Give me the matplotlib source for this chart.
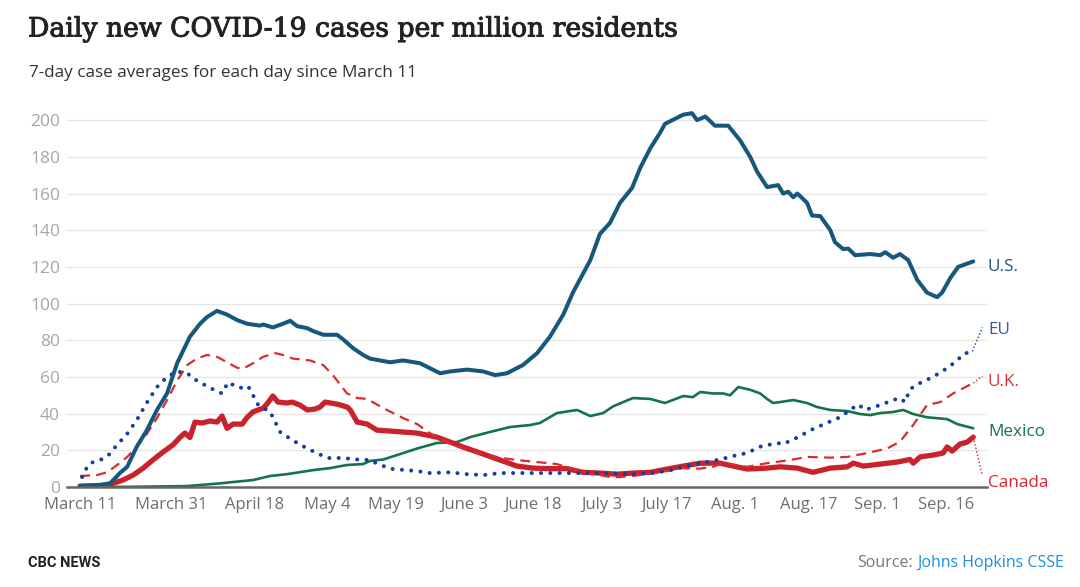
import matplotlib
matplotlib.use("Agg")
import matplotlib.pyplot as plt
import matplotlib.patheffects as pe

# ---------------- data (days since March 11, cases per million) ----------------
us_days = [0.0, 4.4, 6.6, 8.7, 10.3, 12.4, 14.6, 16.8, 19.0, 21.2, 24.0, 26.2, 27.7, 29.9,
           32.1, 34.3, 36.5, 39.3, 40.0, 42.1, 44.3, 45.9, 47.4, 49.6, 50.9, 53.1, 56.1,
           57.4, 59.6, 61.8, 63.3, 67.7, 70.5, 74.2, 78.6, 80.8, 84.5, 88.0, 90.6, 93.2,
           96.7, 99.8, 102.6, 105.5, 107.6, 111.4, 113.5, 115.7, 117.9, 120.5, 122.3,
           124.5, 126.6, 127.7, 131.7, 133.6, 134.7, 136.5, 138.6, 141.5, 144.1, 146.3,
           147.8, 150.0, 152.4, 153.5, 154.6, 155.7, 156.6, 158.7, 159.8, 161.6, 163.8,
           164.8, 166.6, 167.7, 169.2, 172.5, 174.7, 175.8, 177.5, 179.0, 180.8, 182.8,
           184.9, 187.1, 188.2, 190.0, 191.7, 195.0]
us_vals = [0.5, 1.2, 2, 7.6, 11, 22, 31, 42, 51, 67.5, 82, 89, 92.6, 96,
           94, 91, 89, 88, 88.6, 87, 89, 90.6, 87.7, 86.6, 85, 83, 83,
           80.6, 75.7, 72, 70, 68, 69, 67.5, 62, 63, 64, 63, 61, 62,
           66.5, 73, 82, 94, 106, 123.7, 138, 144, 155, 163, 174,
           184.7, 193, 198, 203, 203.8, 200, 202, 197, 197, 189, 180,
           172, 163.5, 164.6, 160, 161, 158, 160, 155, 148, 147.7, 140,
           133.5, 129.7, 130, 126.4, 127, 126.4, 128, 125, 127, 123.7, 112.8,
           106, 103.5, 106, 114, 120, 123]

eu_days = [0.0, 0.4, 1.1, 2.2, 4.4, 6.1, 8.1, 10.3, 12.4, 14.6, 16.8, 19.0, 21.2, 23.4,
           25.5, 28.4, 31.0, 32.3, 34.9, 36.7, 38.9, 41.5, 43.7, 46.3, 49.6, 51.7, 54.1,
           57.4, 60.5, 63.3, 65.5, 68.3, 73.6, 76.4, 80.8, 84.5, 88.0, 91.7, 97.6, 106.3,
           113.5, 120.7, 124.5, 128.2, 131.7, 135.4, 139.7, 143.4, 145.6, 148.5, 152.2,
           153.5, 156.6, 160.0, 163.1, 165.9, 168.1, 169.9, 171.4, 174.7, 177.5, 179.0,
           180.1, 181.2, 183.4, 186.2, 189.3, 191.5, 192.8, 194.8]
eu_vals = [0.5, 5, 9, 13, 14.7, 17, 23, 29, 36.5, 46, 54.5, 60, 63, 62,
           58, 54, 51, 57, 54, 55, 44.7, 41, 30, 25.6, 21, 18.5, 15.8,
           15.8, 15, 14.7, 12, 9.8, 8.7, 7.6, 8, 7, 6.5, 7.6, 7.6, 7.6,
           7.6, 7, 7.6, 8.7, 11, 13, 15, 17.4, 18.5, 22, 24,
           23.4, 27, 31.6, 35, 38, 42, 45, 42, 44.7, 47.4, 48.5,
           46.3, 53.4, 56.7, 60, 64.8, 69, 72.5, 74]

uk_days = [0.0, 3.7, 5.9, 8.1, 10.3, 12.4, 14.6, 16.8, 19.0, 21.2, 23.4, 25.5, 27.7, 29.9,
           32.1, 34.3, 35.6, 37.8, 40.0, 42.6, 44.3, 46.5, 50.2, 53.1, 55.2, 58.3, 60.5,
           62.7, 66.2, 70.5, 73.6, 76.0, 78.6, 83.6, 88.0, 91.7, 95.4, 99.8, 104.1, 107.0,
           109.8, 113.5, 115.7, 117.9, 122.3, 126.6, 131.0, 135.4, 138.2, 140.4, 145.6,
           150.0, 155.0, 158.7, 163.8, 167.5, 171.8, 176.2, 179.0, 181.9, 184.9, 187.8,
           190.6, 193.7, 195.0]
uk_vals = [6, 6.5, 8, 12, 16.4, 22, 29, 37.6, 47.4, 58, 66.5, 70, 72, 71,
           68, 65, 64.5, 67.5, 71, 73, 72, 70, 69, 66.5, 61, 51, 48.5,
           48, 43, 37.6, 34.3, 30, 26, 21, 18, 16, 14.7, 13.6, 12.5, 10.3,
           8, 6.5, 5.4, 5.4, 6.5, 8, 10.3, 10, 11, 13, 11,
           13, 14.7, 16.4, 16, 16.4, 18.5, 21, 24.7, 33.8, 44.7, 46.3,
           51, 55, 56.7]

canada_days = [0.0, 5.0, 7.2, 9.4, 11.6, 13.8, 15.9, 18.1, 20.3, 21.8, 22.9, 24.0, 25.1,
               26.6, 28.4, 29.9, 31.0, 32.1, 33.4, 35.4, 36.5, 37.8, 40.0, 41.0, 42.1,
               43.2, 45.2, 46.3, 48.0, 49.6, 51.3, 52.4, 53.5, 56.1, 58.3, 59.0, 60.5,
               62.7, 64.8, 67.7, 73.6, 77.9, 80.8, 83.6, 88.0, 91.7, 95.4, 98.9, 102.6,
               106.3, 109.8, 113.5, 117.2, 120.7, 124.5, 128.2, 131.7, 135.4, 139.7,
               145.6, 150.0, 152.8, 156.6, 160.0, 163.8, 167.5, 168.8, 171.0, 174.7,
               178.4, 181.2, 181.9, 183.4, 186.2, 188.4, 189.3, 190.4, 192.1, 193.7, 195.0]
canada_vals = [0.5, 0.7, 2, 3.8, 6.5, 10.3, 14.7, 19, 23, 27, 29.4, 27, 35.4,
               34.9, 36, 35.4, 38.7, 32, 34.3, 34.3, 38, 41, 43, 45.8, 49.6,
               46.3, 45.8, 46.3, 44.7, 42, 42.5, 43.6, 46.3, 45.2, 43.6, 42, 35.4,
               34.3, 31, 30.5, 29.4, 27.2, 24.5, 21.8, 18, 14.7, 11.4, 10.3, 10,
               10, 8, 7.6, 7, 7.6, 8, 9.8, 11.4, 13, 13,
               9.8, 10.3, 11, 10.3, 8, 10.3, 11, 13, 11.4, 12.5,
               13.6, 15, 13, 16.4, 17.4, 18.5, 21.8, 19.6, 23.4, 24.5, 27.2]

mexico_days = [0.0, 11.0, 23.4, 30.6, 37.8, 41.5, 45.2, 50.9, 54.6, 58.3, 61.8, 63.3, 66.2,
               69.2, 73.6, 77.9, 82.3, 85.2, 89.5, 93.9, 98.3, 100.4, 104.1, 108.5, 111.4,
               114.2, 116.4, 120.7, 124.5, 127.7, 131.7, 133.8, 135.4, 138.2, 140.4, 141.9,
               143.7, 146.3, 148.5, 150.0, 151.3, 152.8, 155.7, 158.7, 160.9, 163.8, 167.5,
               170.3, 172.5, 174.7, 177.5, 179.7, 181.9, 184.9, 189.3, 191.5, 195.0]
mexico_vals = [0, 0.1, 0.5, 2, 3.8, 6, 7, 9.2, 10.3, 12, 12.5, 14.2, 15,
               17.4, 21, 24, 24.5, 27.2, 30, 32.7, 33.8, 34.9, 40.3, 42, 38.7,
               40.3, 44, 48.5, 48, 45.8, 49.6, 49, 51.8, 51, 51, 50,
               54.5, 53, 51, 48, 45.8, 46.3, 47.4, 45.8, 43.6, 42, 41.4,
               39.8, 39.2, 40.3, 40.9, 42, 39.8, 38, 37, 34.3, 32]

tick_days = [0, 20, 38, 54, 69, 84, 99, 114, 128, 143, 159, 174, 189]
tick_labels = ["March 11", "March 31", "April 18", "May 4", "May 19", "June 3", "June 18",
               "July 3", "July 17", "Aug. 1", "Aug. 17", "Sep. 1", "Sep. 16"]

series_names = ["U.S.", "EU", "U.K.", "Mexico", "Canada"]
label_y = [120, 85.5, 57, 30, 2.0]

# ---------------- styling ----------------
C_US = "#17577e"
C_EU = "#133f9e"
C_UK = "#dc2b2f"
C_CA = "#c9222b"
C_MX = "#13734a"

W, H = 1080, 587
fig = plt.figure(figsize=(W / 100, H / 100), dpi=100)
fig.patch.set_facecolor("white")
ax = fig.add_axes([67 / W, 100 / H, 920 / W, 376 / H])
ax.set_xlim(-2.84, 198.0)
ax.set_ylim(0, 205)

for s in ["top", "right", "left"]:
    ax.spines[s].set_visible(False)
ax.spines["bottom"].set_color("#666666")
ax.spines["bottom"].set_linewidth(1.8)
ax.spines["bottom"].set_zorder(6)

ax.set_yticks(range(0, 201, 20))
ax.yaxis.grid(True, color="#e6e6e6", linewidth=1.0)
ax.set_axisbelow(True)
ax.tick_params(axis="y", length=0, pad=5, labelsize=12.5, labelcolor="#a6a6a6")
ax.tick_params(axis="x", length=0, pad=7, labelsize=12, labelcolor="#6e6e6e")
ax.set_xticks(tick_days)
ax.set_xticklabels(tick_labels)
for lab in ax.get_yticklabels() + ax.get_xticklabels():
    lab.set_fontfamily("Open Sans")

# lines
ax.plot(mexico_days, mexico_vals, color=C_MX, lw=1.9, zorder=3, solid_capstyle="round")
ax.plot(canada_days, canada_vals, color=C_CA, lw=3.8, zorder=3.2, solid_joinstyle="round",
        solid_capstyle="round")
ax.plot(uk_days, uk_vals, color=C_UK, lw=1.6, zorder=3.3, linestyle=(0, (4.5, 2.8)))
ax.plot(eu_days, eu_vals, color=C_EU, lw=2.9, zorder=3.5, linestyle=(0, (0.01, 2.3)),
        dash_capstyle="round")
ax.plot(us_days, us_vals, color=C_US, lw=2.9, zorder=4, solid_joinstyle="round",
        solid_capstyle="round")

# connectors from last point to labels
conn_x = 197.0
for days, vals, ly, col in [(eu_days, eu_vals, label_y[1] + 1.5, C_EU),
                            (uk_days, uk_vals, label_y[2] + 3.5, C_UK),
                            (canada_days, canada_vals, label_y[4] + 4.0, C_CA)]:
    ax.plot([days[-1], conn_x], [vals[-1], ly], color=col, lw=1.0,
            linestyle=(0, (1, 1.6)), clip_on=False, zorder=3)

label_colors = [C_US, "#3557b7", "#e03035", C_MX, "#d8262d"]
for name, ly, col in zip(series_names, label_y, label_colors):
    ax.text(198.2, ly, name, color=col, fontsize=12.3, fontfamily="Open Sans",
            ha="left", va="center", clip_on=False)

# titles
fig.text(28 / W, 1 - 29 / H, "Daily new COVID-19 cases per million residents",
         fontsize=19.2, fontfamily="DejaVu Serif", color="#222222", ha="left", va="center",
         path_effects=[pe.withStroke(linewidth=0.7, foreground="#222222")])
fig.text(29 / W, 1 - 73 / H, "7-day case averages for each day since March 11",
         fontsize=12.3, fontfamily="Open Sans", color="#333333", ha="left", va="center")

# footer
fig.text(28 / W, 1 - 563 / H, "CBC NEWS", fontsize=10.5, fontweight="bold",
         fontfamily="Roboto", color="#222222", ha="left", va="center")
src_link = fig.text(1064 / W, 1 - 563 / H, "Johns Hopkins CSSE", fontsize=11.5,
                    fontfamily="Open Sans", color="#1a8fd6", ha="right", va="center")
fig.canvas.draw()
bb = src_link.get_window_extent(renderer=fig.canvas.get_renderer())
fig.text((bb.x0 - 4) / W, 1 - 563 / H, "Source:", fontsize=11.5, fontfamily="Open Sans",
         color="#777777", ha="right", va="center")

fig.savefig("out.png", dpi=100, facecolor="white")
